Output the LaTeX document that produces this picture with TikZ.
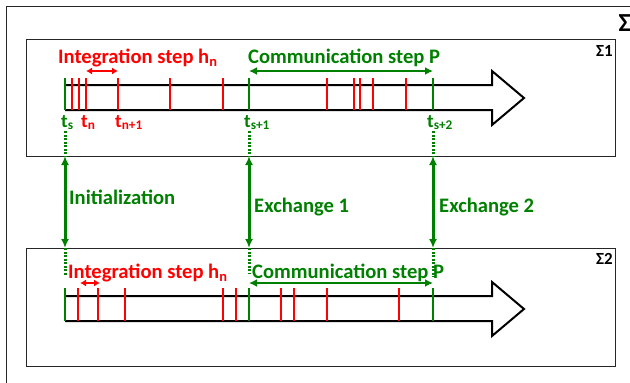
\documentclass[tikz,border=0pt]{standalone}
\usepackage{fontspec}
\setmainfont{Carlito}
\usetikzlibrary{arrows.meta}
\definecolor{dgreen}{RGB}{0,128,0}
\newcommand\lsub[1]{\textsubscript{#1}}
\begin{document}
\begin{tikzpicture}[x=1pt,y=-1pt,
  frame/.style={draw=black!85,line width=1pt},
  shaft/.style={draw=black,line width=2pt,line join=miter},
  rtick/.style={draw=red,line width=1.5pt},
  gtick/.style={draw=dgreen,line width=1.5pt},
  lbl/.style={inner sep=0pt,anchor=base west,font=\bfseries\fontsize{20.6}{22}\selectfont},
  tlbl/.style={inner sep=0pt,anchor=base west,font=\bfseries\fontsize{19}{21}\selectfont},
  xarrow/.style={draw=dgreen,line width=3pt,{Latex[length=9pt,width=8pt]}-{Latex[length=9pt,width=8pt]}},
  dots/.style={draw=dgreen,line width=3pt,dash pattern=on 2pt off 1.5pt},
  rarrow/.style={draw=red,line width=2pt,{Latex[length=6pt,width=7pt]}-{Latex[length=6pt,width=7pt]}},
  garrow/.style={draw=dgreen,line width=2.5pt,{Latex[length=8pt,width=8pt]}-{Latex[length=8pt,width=8pt]}}]
\useasboundingbox (0,0) rectangle (630,383);
% outer frame (clipped at right and bottom)
\draw[frame] (6.7,383) -- (6.7,6) -- (630,6);
\node[inner sep=0pt,anchor=base east,font=\bfseries\fontsize{26}{28}\selectfont] (sigma) at (631,31) {Σ};
% boxes
\draw[frame] (26,39) rectangle (615,156);
\draw[frame] (26,248) rectangle (615,366);
\node[inner sep=0pt,anchor=base east,font=\bfseries\fontsize{17}{19}\selectfont] (s1) at (613,56) {Σ1};
\node[inner sep=0pt,anchor=base east,font=\bfseries\fontsize{17}{19}\selectfont] (s2) at (613,264) {Σ2};
% timeline 1
\draw[shaft,fill=white] (65,85) -- (492,85) -- (492,71) -- (524,98) -- (492,125) -- (492,110) -- (65,110);
\foreach \x in {72,79,86,118,170,223,327,354,360,373,406}
  \draw[rtick] (\x,78) -- (\x,110);
\foreach \x in {65,249,433}
  \draw[gtick] (\x,78) -- (\x,110);
% timeline 2
\draw[shaft,fill=white] (65,296) -- (492,296) -- (492,282) -- (524,309) -- (492,336) -- (492,321) -- (65,321);
\foreach \x in {78,98,125,223,236,281,294,327,399}
  \draw[rtick] (\x,288) -- (\x,321);
\foreach \x in {65,249,433}
  \draw[gtick] (\x,288) -- (\x,321);
% labels timeline 1
\node[lbl,text=red] (int1) at (58,63) {Integration step h\lsub{n}};
\node[lbl,text=dgreen] (com1) at (248,63) {Communication step P};
\coordinate (r1a) at (86,71); \coordinate (r1b) at (118,71);
\draw[rarrow] (r1a) -- (r1b);
\coordinate (g1a) at (249,71); \coordinate (g1b) at (433,71);
\draw[garrow] (g1a) -- (g1b);
\node[tlbl,text=dgreen] (ts) at (61,127) {t\lsub{s}};
\node[tlbl,text=red] (tn) at (81,127) {t\lsub{n}};
\node[tlbl,text=red] (tn1) at (115,127) {t\lsub{n+1}};
\node[tlbl,text=dgreen] (ts1) at (244,127) {t\lsub{s+1}};
\node[tlbl,text=dgreen] (ts2) at (427,127) {t\lsub{s+2}};
% labels timeline 2
\node[lbl,text=red] (int2) at (68,278) {Integration step h\lsub{n}};
\node[lbl,text=dgreen] (com2) at (252,278) {Communication step P};
\coordinate (r2a) at (80,283); \coordinate (r2b) at (100,283);
\draw[rarrow] (r2a) -- (r2b);
\coordinate (g2a) at (249,283); \coordinate (g2b) at (433,283);
\draw[garrow] (g2a) -- (g2b);
% exchanges
\foreach \n/\x/\e in {0/65/275,1/249/274,2/433/277}{
  \coordinate (d\n a) at (\x,131);
  \coordinate (d\n b) at (\x,156);
  \coordinate (d\n c) at (\x,248);
  \coordinate (d\n d) at (\x,\e);
  \draw[dots] (d\n a) -- (d\n b);
  \draw[xarrow] (d\n b) -- (d\n c);
  \draw[dots] (d\n c) -- (d\n d);
}
\node[lbl,text=dgreen] (init) at (69,204) {Initialization};
\node[lbl,text=dgreen] (ex1) at (254,212) {Exchange 1};
\node[lbl,text=dgreen] (ex2) at (439,212) {Exchange 2};
\end{tikzpicture}
\end{document}
